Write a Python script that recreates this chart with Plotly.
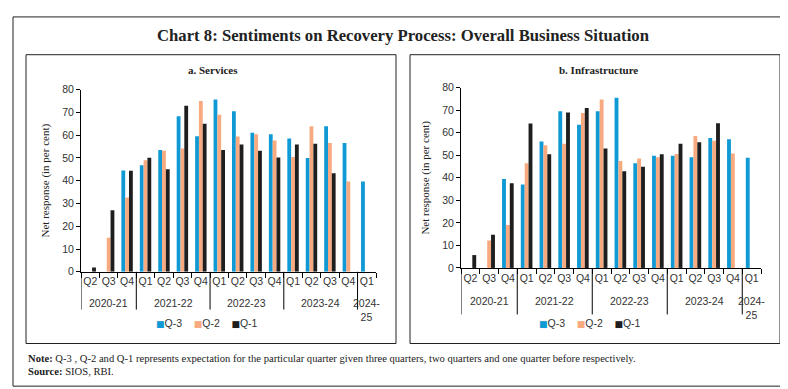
import plotly.graph_objects as go

W, H = 788, 389

years = ["2020-21"] * 3 + ["2021-22"] * 4 + ["2022-23"] * 4 + ["2023-24"] * 4 + ["2024-<br>25"]
quarters = ["Q2", "Q3", "Q4"] + ["Q1", "Q2", "Q3", "Q4"] * 3 + ["Q1"]
series_names = ["Q-3", "Q-2", "Q-1"]

services_q3 = [None, None, 44.5, 46.8, 53.5, 68.3, 59.5, 75.7, 70.5, 61.0, 60.4, 58.5, 50.0, 63.9, 56.5, 39.6]
services_q2 = [None, 15.0, 32.6, 49.0, 53.2, 54.1, 75.0, 69.0, 59.4, 60.4, 57.7, 50.4, 63.9, 56.5, 39.6, None]
services_q1 = [1.9, 27.0, 44.4, 50.1, 45.0, 72.9, 65.0, 53.5, 55.9, 53.2, 50.2, 55.9, 56.2, 43.3, None, None]

infra_q3 = [None, None, 39.5, 37.0, 56.1, 69.5, 63.5, 69.5, 75.5, 46.5, 49.8, 49.8, 49.1, 57.7, 57.1, 48.9]
infra_q2 = [None, 12.2, 19.0, 46.5, 54.4, 55.1, 68.8, 74.7, 47.4, 48.6, 49.1, 50.6, 58.5, 56.4, 50.8, None]
infra_q1 = [5.7, 14.7, 37.6, 64.1, 50.4, 69.0, 71.0, 53.0, 42.9, 44.9, 50.5, 55.1, 55.8, 64.2, None, None]

colors = ["#0F9AD6", "#F7AA80", "#1E1E1E"]

def px_x(p):
    return p / W

def px_y(p):
    return 1 - p / H

n = len(quarters)
xpos = list(range(n))

# group structure derived from the year labels
groups = []
for i, yr in enumerate(years):
    if not groups or groups[-1][0] != yr:
        groups.append([yr, i, i])
    else:
        groups[-1][2] = i

fig = go.Figure()

for name, vals, col in zip(series_names, [services_q3, services_q2, services_q1], colors):
    fig.add_trace(go.Bar(x=xpos, y=vals, name=name, marker_color=col,
                         marker_line_width=0, xaxis="x", yaxis="y", showlegend=False))
for name, vals, col in zip(series_names, [infra_q3, infra_q2, infra_q1], colors):
    fig.add_trace(go.Bar(x=xpos, y=vals, name=name, marker_color=col,
                         marker_line_width=0, xaxis="x2", yaxis="y2", showlegend=False))

tickfont = dict(family="Liberation Sans", size=10.5, color="#333333")
serif = "Liberation Serif"

def xax(domain, anchor):
    return dict(domain=domain, anchor=anchor, range=[-0.5, n - 0.5], showline=True,
                linecolor="black", linewidth=1, tickmode="array", tickvals=xpos, ticktext=quarters,
                ticks="", tickangle=0, tickfont=tickfont, showgrid=False, zeroline=False,
                minor=dict(tickvals=[i - 0.5 for i in range(n + 1)], ticks="outside", ticklen=5,
                           tickcolor="black", showgrid=False),
                fixedrange=True)

def yax(domain, anchor):
    return dict(domain=domain, anchor=anchor, range=[0, 80], dtick=10, showline=True,
                linecolor="black", linewidth=1, ticks="outside", ticklen=4, tickcolor="black",
                tickfont=tickfont, showgrid=False, zeroline=False,
                title=dict(text="Net response (in per cent)", font=dict(family=serif, size=11, color="#222"),
                           standoff=10))

fig.update_layout(
    width=W, height=H, margin=dict(l=0, r=0, t=0, b=0),
    paper_bgcolor="white", plot_bgcolor="white",
    barmode="group", bargap=0.38, bargroupgap=0.0,
    xaxis=xax([px_x(73), px_x(368)], "y"),
    yaxis=yax([px_y(266), px_y(78)], "x"),
    xaxis2=xax([px_x(453), px_x(753)], "y2"),
    yaxis2=yax([px_y(262), px_y(76)], "x2"),
    showlegend=False,
)

shapes = [
    dict(type="rect", xref="paper", yref="paper", x0=px_x(5), x1=px_x(783), y0=px_y(384), y1=px_y(3),
         line=dict(color="#222", width=1)),
    dict(type="rect", xref="paper", yref="paper", x0=px_x(18), x1=px_x(388), y0=px_y(340), y1=px_y(42),
         line=dict(color="#222", width=1)),
    dict(type="rect", xref="paper", yref="paper", x0=px_x(402), x1=px_x(772), y0=px_y(340), y1=px_y(42),
         line=dict(color="#222", width=1)),
]

anns = [
    dict(text="<b>Chart 8: Sentiments on Recovery Process: Overall Business Situation</b>",
         x=px_x(396), y=px_y(22), xref="paper", font=dict(family=serif, size=16.7, color="#222")),
    dict(text="<b>a. Services</b>", x=px_x(205), y=px_y(58), xref="paper", font=dict(family=serif, size=11, color="#222")),
    dict(text="<b>b. Infrastructure</b>", x=px_x(590), y=px_y(58), xref="paper", font=dict(family=serif, size=11, color="#222")),
    dict(text="<b>Note:</b> Q-3 , Q-2 and Q-1 represents expectation for the particular quarter given three quarters, two quarters and one quarter before respectively.",
         x=px_x(18), y=px_y(355), xref="paper", xanchor="left", font=dict(family=serif, size=10.6, color="#222")),
    dict(text="<b>Source:</b> SIOS, RBI.", x=px_x(18), y=px_y(369), xref="paper", xanchor="left",
         font=dict(family=serif, size=10.6, color="#222")),
]

# year group labels and dividers for both panels
for xref, ytop, ybot, ylab in [("x", 266, 305, 298), ("x2", 262, 310, 296)]:
    for yr, i0, i1 in groups:
        if "<br>" in yr:
            anns.append(dict(text=yr, x=(i0 + i1) / 2, y=px_y(ylab - 8), xref=xref, yanchor="top",
                             font=tickfont))
        else:
            anns.append(dict(text=yr, x=(i0 + i1) / 2, y=px_y(ylab), xref=xref, yanchor="middle",
                             font=tickfont))
        shapes.append(dict(type="line", xref=xref, yref="paper", x0=i0 - 0.5, x1=i0 - 0.5,
                           y0=px_y(ybot), y1=px_y(ytop), line=dict(color="black", width=1)))

# legends (colored squares + labels)
legend_text = "    ".join(
    f"<span style='font-family:DejaVu Sans;font-size:9px;color:{c}'>■</span>{nm}" for nm, c in zip(series_names, colors)
)
for cx in [px_x(199), px_x(582)]:
    anns.append(dict(text=legend_text, x=cx, y=px_y(319), xref="paper",
                     font=dict(family="Liberation Sans", size=10.5, color="#333")))

for a in anns:
    a.setdefault("xanchor", "center")
    a.setdefault("yanchor", "middle")
    a.update(yref="paper", showarrow=False)

fig.update_layout(shapes=shapes, annotations=anns)

fig.write_html("out.html")
